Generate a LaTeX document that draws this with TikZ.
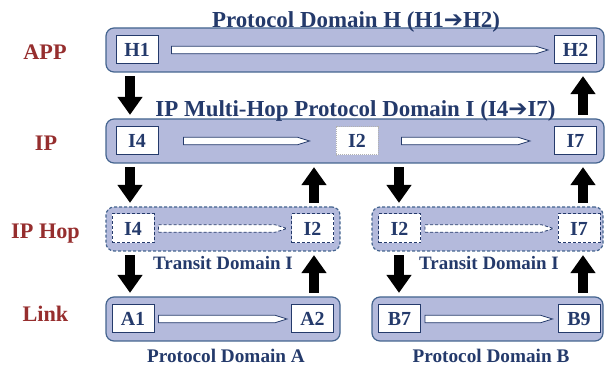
\documentclass[tikz,border=0pt]{standalone}
\usepackage{fontspec}
\setmainfont{Liberation Serif}
\newfontfamily\dingfont{DejaVu Sans}
\usetikzlibrary{arrows.meta,calc}
\definecolor{barfill}{HTML}{B4BADC}
\definecolor{barline}{HTML}{44648F}
\definecolor{navy}{HTML}{243A6B}
\definecolor{layred}{HTML}{962E2E}
\newcommand{\rarr}{{\dingfont\bfseries ➔}}
\newcommand{\fsz}[1]{\bfseries\fontsize{#1}{#1}\selectfont}
\tikzset{pipe/.style 2 args={draw=navy, line width=.8bp, fill=white, to path={
    ($(\tikztostart.east)+(#1,-3.75bp)$) -- ($(\tikztotarget.west)+(-#2-12bp,-3.75bp)$)
    -- ($(\tikztotarget.west)+(-#2,0bp)$) -- ($(\tikztotarget.west)+(-#2-12bp,3.75bp)$)
    -- ($(\tikztostart.east)+(#1,3.75bp)$) -- cycle}}}

\begin{document}
\begin{tikzpicture}[>=latex]
      \tikzstyle{every node}=[font=\fsz{20}, text=navy]
      \tikzstyle{bar}=[draw=barline, fill=barfill, line width=1.2bp, rounded corners=8bp, minimum height=44bp, inner sep=0pt]
      \tikzstyle{hopbar}=[bar, dash pattern=on 3bp off 2bp]
      \tikzstyle{ebox}=[draw=navy, fill=white, line width=1bp, minimum width=42bp, minimum height=28bp, inner sep=0pt]
      \tikzstyle{dbox}=[ebox, dash pattern=on 3bp off 2bp]
      \tikzstyle{lay}=[anchor=base, text=layred, font=\fsz{22.3}]
      \tikzstyle{blk}=[line width=10bp, draw=black, -{Triangle[width=24bp,length=18bp]}, shorten <=3.5bp, shorten >=3.5bp]
      %%
  \useasboundingbox (0bp,0bp) rectangle (605bp,369bp);
  \node (lapp) at (45bp,309bp) [lay] {APP};
  \node (lip) at (46bp,218.5bp) [lay] {IP};
  \node (lhop) at (45.5bp,130bp) [lay] {IP Hop};
  \node (llink) at (45.5bp,47bp) [lay] {Link};
  \node (app) at (355bp,319bp) [bar,minimum width=498bp] {};
  \node (ip) at (355bp,228bp) [bar,minimum width=498bp] {};
  \node (hopA) at (223bp,140bp) [hopbar,minimum width=234bp] {};
  \node (hopB) at (487.5bp,140bp) [hopbar,minimum width=231bp] {};
  \node (linkA) at (223bp,50bp) [bar,minimum width=234bp] {};
  \node (linkB) at (487.5bp,50bp) [bar,minimum width=231bp] {};
  \node (ttlH) at (356bp,341bp) [anchor=base,font=\fsz{23}] {Protocol Domain H (H1\rarr H2)};
  \node (ttlI) at (355.5bp,252bp) [anchor=base,font=\fsz{23}] {IP Multi-Hop Protocol Domain I (I4\rarr I7)};
  \node (trA) at (223bp,99.5bp) [anchor=base,font=\fsz{19}] {Transit Domain I};
  \node (trB) at (489bp,99.5bp) [anchor=base,font=\fsz{19}] {Transit Domain I};
  \node (pdA) at (226bp,7bp) [anchor=base,font=\fsz{19.3}] {Protocol Domain A};
  \node (pdB) at (491bp,7bp) [anchor=base,font=\fsz{19.3}] {Protocol Domain B};
  \node (H1) at (137bp,319bp) [ebox] {H1};
  \node (H2) at (575.5bp,319bp) [ebox] {H2};
  \node (I4) at (137bp,228bp) [ebox] {I4};
  \node (I2) at (357bp,228bp) [ebox,draw=gray!60,densely dotted] {I2};
  \node (I7) at (575.5bp,228bp) [ebox] {I7};
  \node (hI4) at (133bp,140.5bp) [dbox,minimum height=29bp] {I4};
  \node (hI2) at (312.5bp,140.5bp) [dbox,minimum height=29bp] {I2};
  \node (gI2) at (399.5bp,140.5bp) [dbox,minimum height=29bp] {I2};
  \node (gI7) at (579bp,140.5bp) [dbox,minimum height=29bp] {I7};
  \node (A1) at (133bp,50bp) [ebox] {A1};
  \node (A2) at (312.5bp,50bp) [ebox] {A2};
  \node (B7) at (399.5bp,50bp) [ebox] {B7};
  \node (B9) at (579bp,50bp) [ebox] {B9};
  \coordinate (c1) at (130bp,0bp);
  \coordinate (c2) at (314bp,0bp);
  \coordinate (c3) at (399bp,0bp);
  \coordinate (c4) at (583bp,0bp);
  \path [pipe={13bp}{6bp}] (H1) to (H2);
  \path [pipe={25bp}{26bp}] (I4) to (I2);
  \path [pipe={23bp}{24bp}] (I2) to (I7);
  \path [pipe={4bp}{4bp},dash pattern=on 3bp off 2bp] (hI4) to (hI2);
  \path [pipe={4bp}{4bp},dash pattern=on 3bp off 2bp] (gI2) to (gI7);
  \path [pipe={4bp}{4bp}] (A1) to (A2);
  \path [pipe={4bp}{5bp}] (B7) to (B9);
  \draw [blk] (c1 |- app.south) -- (c1 |- ip.north);
  \draw [blk] (c4 |- ip.north) -- (c4 |- app.south);
  \draw [blk] (c1 |- ip.south) -- (c1 |- hopA.north);
  \draw [blk] (c2 |- hopA.north) -- (c2 |- ip.south);
  \draw [blk] (c3 |- ip.south) -- (c3 |- hopB.north);
  \draw [blk] (c4 |- hopB.north) -- (c4 |- ip.south);
  \draw [blk] (c1 |- hopA.south) -- (c1 |- linkA.north);
  \draw [blk] (c2 |- linkA.north) -- (c2 |- hopA.south);
  \draw [blk] (c3 |- hopB.south) -- (c3 |- linkB.north);
  \draw [blk] (c4 |- linkB.north) -- (c4 |- hopB.south);
%
\end{tikzpicture}
\end{document}
